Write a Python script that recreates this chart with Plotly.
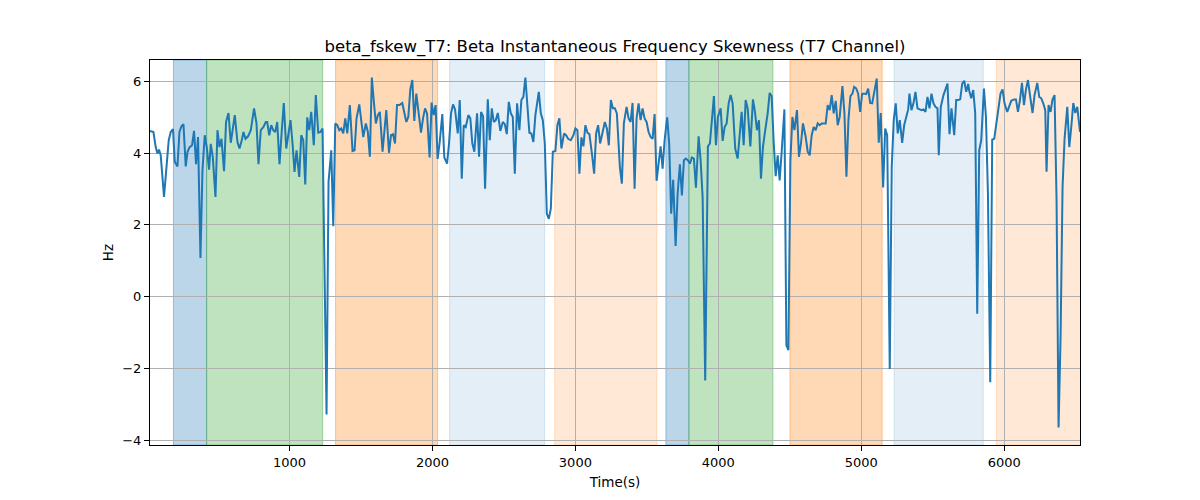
import plotly.graph_objects as go

# ---- data ----
time_s = [
    24, 48, 64, 76, 87, 99, 122, 141, 155, 169, 185, 197, 216, 230, 244, 258, 274, 286, 300, 318,
    332, 346, 360, 377, 391, 407, 421, 437, 449, 463, 482, 496, 510, 524, 542, 556, 573, 589, 603, 617,
    636, 650, 666, 678, 692, 710, 729, 752, 769, 783, 799, 818, 834,
    844, 858, 872, 886, 900, 914, 930, 946, 960, 977, 993, 1007, 1021, 1035, 1049, 1068, 1082, 1096, 1110, 1124,
    1138, 1152, 1170, 1184, 1201, 1217, 1231, 1259, 1273, 1292, 1306, 1320, 1334, 1348, 1362, 1376, 1390, 1404, 1422,
    1441, 1455, 1469, 1488, 1502, 1516, 1534, 1548, 1562, 1576, 1590, 1604, 1618, 1632, 1651,
    1663, 1677, 1696, 1710, 1724, 1738, 1752, 1770, 1789, 1803, 1817, 1831, 1845, 1859, 1873, 1887, 1901, 1920, 1934, 1948,
    1962, 1980, 1994, 2008, 2022, 2036, 2050, 2069, 2083, 2102, 2116, 2130, 2144, 2158, 2177, 2191, 2205, 2219, 2233, 2251,
    2265, 2279, 2293, 2312, 2326, 2340, 2354, 2368, 2387, 2401, 2415, 2429, 2443, 2457, 2475,
    2492, 2506, 2520, 2534, 2548, 2562, 2576, 2592, 2608, 2622, 2636, 2650, 2664, 2678, 2692, 2706, 2720, 2744, 2758, 2772,
    2786, 2800, 2814, 2828, 2842, 2860, 2874, 2888, 2902, 2921, 2935, 2949, 2968, 2986, 3000, 3014, 3028, 3042, 3056, 3070,
    3084, 3098, 3117, 3131, 3145, 3159, 3173, 3192, 3206, 3220, 3234, 3248, 3262, 3276, 3290,
    3311, 3325, 3339, 3358, 3372, 3386, 3400, 3414, 3428, 3442, 3456, 3470, 3484, 3498, 3512, 3526, 3540, 3554, 3568, 3582,
    3596, 3610, 3624, 3642, 3656, 3670, 3684, 3701, 3715, 3731, 3745, 3759, 3773, 3787, 3801, 3815, 3829, 3843, 3862, 3876,
    3890, 3908, 3927, 3941, 3955, 3969, 3983, 3997, 4016, 4030, 4044, 4058, 4072, 4086, 4100, 4118,
    4135, 4149, 4163, 4177, 4191, 4205, 4224, 4242, 4256, 4270, 4284, 4298, 4312, 4326, 4345, 4359, 4373, 4387, 4401, 4415,
    4429, 4443, 4462, 4476, 4490, 4504, 4518, 4532, 4550, 4564, 4578, 4592, 4611, 4625, 4639, 4653, 4667, 4681, 4695, 4709,
    4723, 4737, 4751, 4765, 4779, 4793, 4807, 4821, 4835, 4849, 4868, 4882, 4896, 4910, 4924, 4938,
    4950, 4964, 4978, 4992, 5006, 5020, 5034, 5048, 5062, 5076, 5090, 5108, 5122, 5136, 5153, 5167, 5181, 5199, 5213, 5227,
    5241, 5255, 5269, 5286, 5300, 5314, 5328, 5337, 5351, 5365, 5379, 5393, 5407, 5421, 5435, 5449, 5463, 5477, 5491, 5505,
    5519, 5533, 5542, 5556, 5575, 5589, 5603, 5617, 5631, 5650, 5664, 5678, 5692, 5706, 5720, 5734, 5748,
    5755, 5769, 5783, 5797, 5811, 5825, 5839, 5858, 5872, 5886, 5902, 5916, 5930, 5946, 5960, 5974, 5988, 6002, 6021, 6035,
    6049, 6068, 6082, 6096, 6110, 6124, 6138, 6152, 6166, 6180, 6198, 6212, 6231, 6245, 6259, 6273, 6287, 6296, 6310, 6324,
    6338, 6352, 6366, 6380, 6394, 6408, 6422, 6441, 6455, 6469, 6483, 6497, 6511, 6530,
]

skew_hz = [
    4.62, 4.59, 4.17, 3.99, 4.10, 3.94, 2.78, 3.62, 4.36, 4.59, 4.67, 3.76, 3.63, 4.59, 4.75, 4.81, 3.63, 4.03, 4.16, 4.22,
    4.62, 3.69, 4.45, 1.08, 3.52, 4.50, 4.17, 3.54, 4.26, 3.90, 2.78, 4.64, 4.17, 4.40, 3.50, 4.87, 5.12, 4.29, 4.73, 5.06,
    4.31, 4.13, 4.36, 4.59, 4.40, 4.47, 4.64, 5.25, 4.83, 3.69, 4.64, 4.73, 4.87,
    4.87, 4.50, 4.78, 4.64, 4.59, 4.87, 3.69, 4.64, 5.40, 4.13, 4.59, 4.92, 4.27, 3.48, 4.08, 3.34, 4.50, 4.36, 3.13, 5.00,
    4.64, 5.15, 4.22, 5.62, 4.57, 4.59, 4.69, -3.29, 3.20, 4.08, 1.96, 4.83, 4.78, 4.64, 4.69, 4.55, 4.97, 4.55, 5.34,
    4.06, 4.08, 4.97, 5.36, 4.97, 4.45, 4.83, 4.59, 3.90, 6.11, 5.43, 4.83, 5.06, 5.15, 4.04,
    4.64, 5.20, 4.01, 4.50, 4.53, 4.27, 5.34, 5.34, 5.40, 5.11, 4.87, 5.01, 5.78, 6.04, 4.90, 5.66, 5.20, 4.57, 4.97, 5.25,
    5.11, 3.88, 5.41, 5.06, 5.34, 3.84, 4.29, 5.09, 3.88, 3.71, 4.27, 5.11, 5.36, 5.22, 4.55, 5.48, 3.29, 4.78, 4.73, 5.06,
    4.97, 4.27, 4.04, 5.11, 3.90, 5.15, 5.03, 3.01, 5.50, 4.36, 5.25, 4.87, 4.92, 5.12, 4.62,
    4.87, 4.81, 4.53, 5.43, 5.11, 5.01, 3.43, 5.39, 4.64, 5.48, 5.57, 6.11, 5.34, 4.57, 4.55, 4.31, 5.06, 5.71, 5.11, 4.92,
    4.27, 2.31, 2.17, 2.45, 4.04, 4.06, 4.78, 4.97, 4.13, 4.55, 4.50, 4.40, 4.36, 4.50, 4.69, 4.64, 3.43, 4.44, 4.19, 4.78,
    4.57, 4.53, 3.94, 3.43, 4.55, 4.78, 4.27, 4.64, 4.87, 4.69, 4.22, 5.48, 5.25, 5.25, 5.11,
    3.62, 3.15, 4.83, 5.29, 4.97, 4.87, 5.40, 3.01, 4.97, 5.39, 4.92, 5.25, 4.97, 4.87, 4.59, 4.45, 4.40, 5.09, 3.23, 3.82,
    4.19, 3.57, 4.36, 5.00, 4.27, 2.31, 3.26, 1.41, 2.87, 3.69, 2.82, 3.80, 3.85, 3.80, 3.71, 3.88, 3.85, 3.04, 4.47, 3.80,
    2.78, -2.34, 4.19, 4.27, 4.92, 5.59, 4.22, 5.01, 5.25, 4.34, 4.73, 4.83, 5.39, 5.62, 5.39, 4.13,
    3.85, 4.59, 5.15, 4.22, 5.48, 5.25, 4.19, 5.50, 5.15, 4.64, 4.92, 3.29, 4.17, 4.59, 5.11, 5.68, 5.59, 4.31, 3.36, 3.94,
    3.24, 4.04, 5.22, -1.36, -1.49, 3.80, 5.01, 4.64, 5.20, 3.90, 4.27, 4.83, 4.45, 4.04, 3.94, 4.50, 4.73, 4.64, 4.83, 4.78,
    4.83, 4.83, 4.83, 5.34, 5.20, 5.62, 5.11, 5.46, 4.78, 5.01, 5.87, 5.11, 3.34, 4.92, 5.59, 5.66,
    5.85, 5.81, 5.66, 5.15, 5.66, 5.66, 5.65, 5.80, 5.40, 5.39, 5.71, 6.08, 4.29, 5.12, 3.04, 4.69, 4.50, -2.02, 3.62, 4.92,
    5.39, 4.55, 4.92, 4.29, 4.78, 4.97, 5.22, 5.66, 5.20, 5.39, 5.71, 5.25, 5.22, 5.20, 5.22, 5.15, 5.57, 5.25, 5.66, 5.39,
    5.29, 5.25, 3.94, 5.29, 5.62, 5.81, 5.94, 4.53, 5.25, 4.50, 5.48, 5.48, 5.50, 5.94, 6.02, 5.71, 5.93,
    5.74, 5.53, 5.76, 5.11, -0.48, 4.08, 4.36, 5.80, 5.01, 2.87, -2.39, 4.38, 4.40, 4.87, 5.29, 5.66, 5.78, 5.39, 5.15, 5.34,
    5.46, 5.50, 5.50, 5.15, 5.48, 5.96, 5.34, 5.78, 6.04, 5.62, 5.12, 5.62, 5.96, 5.57, 5.53, 5.39, 5.20, 3.48, 5.34, 5.15,
    5.50, 5.62, 2.69, -3.65, -1.13, 3.06, 4.40, 5.29, 4.17, 4.73, 5.40, 5.12, 5.29, 4.59,
]

# shaded intervals (seconds) and their colours
band_start = [188, 420, 1322, 2120, 2855, 3633, 3794, 4501, 5230, 5944]
band_end = [420, 1232, 2036, 2785, 3570, 3794, 4382, 5146, 5853, 6540]
band_rgb = ["31,119,180", "44,160,44", "255,127,14", "31,119,180", "255,127,14",
            "31,119,180", "44,160,44", "255,127,14", "31,119,180", "255,127,14"]
band_alpha = [0.3, 0.3, 0.3, 0.12, 0.17, 0.3, 0.3, 0.3, 0.12, 0.17]

x_ticks = [1000, 2000, 3000, 4000, 5000, 6000]
y_ticks = [-4, -2, 0, 2, 4, 6]
y_tick_text = ["\u22124", "\u22122", "0", "2", "4", "6"]

# ---- figure ----
fig = go.Figure()
fig.add_trace(go.Scatter(x=time_s, y=skew_hz, mode="lines",
                         line=dict(color="#1f77b4", width=2), showlegend=False))

shapes = []
for s, e, c, a in zip(band_start, band_end, band_rgb, band_alpha):
    shapes.append(dict(type="rect", xref="x", yref="paper", x0=s, x1=e, y0=0, y1=1,
                       fillcolor=f"rgba({c},{a})",
                       line=dict(color=f"rgba({c},{min(a * 1.3, 1):.2f})", width=1),
                       layer="between"))

ymin, ymax = min(skew_hz), max(skew_hz)
span = ymax - ymin

# the page body has an 8px margin, so the figure is 8px smaller than the window
W, H = 1192, 492
font = "DejaVu Sans, Arial, sans-serif"
fig.update_layout(
    width=W, height=H,
    margin=dict(l=142, r=120, t=52, b=55),
    paper_bgcolor="white", plot_bgcolor="white",
    shapes=shapes,
    font=dict(family=font, size=13, color="black"),
    title=dict(text="beta_fskew_T7: Beta Instantaneous Frequency Skewness (T7 Channel)",
               x=0.5, xref="paper", y=1 - 38 / H, yref="container",
               xanchor="center", yanchor="middle",
               font=dict(family=font, size=16.5, color="black")),
    xaxis=dict(range=[time_s[0], time_s[-1]], tickvals=x_ticks,
               showgrid=True, gridcolor="#b0b0b0", gridwidth=0.8,
               showline=True, linecolor="black", linewidth=1, mirror=True,
               ticks="outside", ticklen=5, tickwidth=1, tickcolor="black",
               zeroline=False, tickfont=dict(size=13),
               title=dict(text="Time(s)", standoff=8, font=dict(size=13.5))),
    yaxis=dict(range=[ymin - 0.05 * span, ymax + 0.05 * span],
               tickvals=y_ticks, ticktext=y_tick_text,
               showgrid=True, gridcolor="#b0b0b0", gridwidth=0.8,
               showline=True, linecolor="black", linewidth=1, mirror=True,
               ticks="outside", ticklen=5, tickwidth=1, tickcolor="black",
               zeroline=False, tickfont=dict(size=13),
               title=dict(text="Hz", standoff=5, font=dict(size=13.5))),
)

fig.write_html("out.html")
